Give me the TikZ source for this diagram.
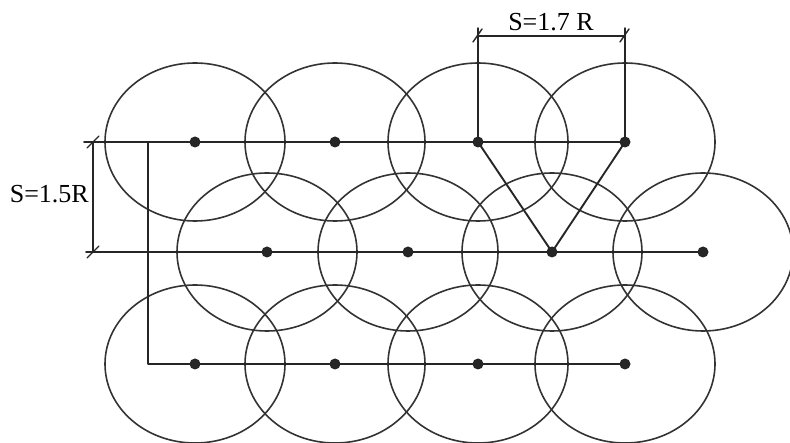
\documentclass[tikz,border=0pt]{standalone}
\usepackage{fontspec}
\setmainfont{Liberation Serif}
\usetikzlibrary{calc}
\begin{document}
\begin{tikzpicture}[
  x=1pt, y=-1pt,
  line cap=round,
  line join=round,
  ring/.style={line width=1.6pt, black!80},
  link/.style={line width=1.9pt, black!85},
  dimtick/.style={line width=1.4pt, black!85},
  every node/.style={font=\fontsize{26}{30}\selectfont, inner sep=0pt}
]
  \useasboundingbox (0,0) rectangle (790,443);

  % Sprinkler positions, three rows
  \coordinate (t1) at (195,142);
  \coordinate (t2) at (335,142);
  \coordinate (t3) at (478,142);
  \coordinate (t4) at (625,142);
  \coordinate (m1) at (267,252);
  \coordinate (m2) at (408,252);
  \coordinate (m3) at (552,252);
  \coordinate (m4) at (703,252);
  \coordinate (b1) at (195,364);
  \coordinate (b2) at (335,364);
  \coordinate (b3) at (478,364);
  \coordinate (b4) at (625,364);

  % Coverage circles
  \foreach \p in {t1,t2,t3,t4,m1,m2,m3,m4,b1,b2,b3,b4}
    \draw[ring] (\p) ellipse[x radius=90, y radius=79];

  % Free ends of the pipes and dimension lines
  \coordinate (tl) at (84,142);
  \coordinate (ml) at (86,252);
  \coordinate (bl) at (148,364);
  \coordinate (vt) at (148,142);
  \coordinate (dv1) at (93,142);
  \coordinate (dv2) at (93,252);
  \coordinate (dh1) at (478,36);
  \coordinate (dh2) at (625,36);
  \coordinate (eh1) at (478,28);
  \coordinate (eh2) at (625,28);

  % Pipes
  \draw[link] (tl) -- (t1) -- (t2) -- (t3) -- (t4);
  \draw[link] (ml) -- (m1) -- (m2) -- (m3) -- (m4);
  \draw[link] (vt) -- (bl) -- (b1) -- (b2) -- (b3) -- (b4);

  % Triangle between two rows
  \draw[link] (t3) -- (m3) -- (t4);

  % Row spacing
  \draw[dimtick] (dv1) -- (dv2);
  \draw[dimtick] ($(dv1)+(-6,6)$) -- ($(dv1)+(6,-6)$);
  \draw[dimtick] ($(dv2)+(-6,6)$) -- ($(dv2)+(6,-6)$);
  \node[anchor=east] (rowlbl) at (89,194) {S=1.5R};

  % Sprinkler spacing
  \draw[dimtick] (eh1) -- (t3);
  \draw[dimtick] (eh2) -- (t4);
  \draw[dimtick] (dh1) -- (dh2);
  \draw[dimtick] ($(dh1)+(-5,6)$) -- ($(dh1)+(4,-7)$);
  \draw[dimtick] ($(dh2)+(-5,6)$) -- ($(dh2)+(4,-7)$);
  \node[anchor=base] (sprlbl) at (551,31) {S=1.7 R};

  % Sprinklers
  \foreach \p in {t1,t2,t3,t4,m1,m2,m3,m4,b1,b2,b3,b4}
    \fill[black!85] (\p) circle[radius=5.5];
\end{tikzpicture}
\end{document}
